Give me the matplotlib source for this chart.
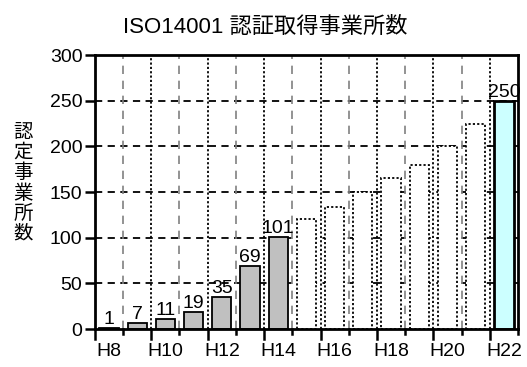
import numpy as np
import matplotlib.pyplot as plt

plt.rcParams['font.family'] = ['Liberation Sans', 'Noto Sans CJK JP']

# 年度ごとの認証取得事業所数
years = ['H8', 'H9', 'H10', 'H11', 'H12', 'H13', 'H14', 'H15',
         'H16', 'H17', 'H18', 'H19', 'H20', 'H21', 'H22']
counts = [1, 7, 11, 19, 35, 69, 101, 120, 134, 150, 165, 180, 200, 225, 250]
# 0: 実績, 1: 見込み(点線), 2: 目標
kind = [0, 0, 0, 0, 0, 0, 0, 1, 1, 1, 1, 1, 1, 1, 2]
labeled = [True] * 7 + [False] * 7 + [True]

title = 'ISO14001 認証取得事業所数'
ylabel = '認定事業所数'

fig = plt.figure(figsize=(5.27, 3.67), dpi=100)
ax = fig.add_axes([0.180, 0.1035, 0.803, 0.7465])

x = np.arange(len(years))
w = 0.68

# grid: dashed horizontal, alternating gray dashed / black dotted vertical
for yv in range(50, 300, 50):
    ax.axhline(yv, color='black', lw=1.3, ls=(0, (4, 3)), zorder=1)
for i in range(1, len(years)):
    if i % 2 == 1:
        ax.axvline(i - 0.5, color='#808080', lw=1.2, ls=(0, (5, 4)), zorder=1)
    else:
        ax.axvline(i - 0.5, color='black', lw=1.3, ls=(0, (1.2, 1.2)), zorder=1)

for xi, v, k in zip(x, counts, kind):
    if k == 0:
        ax.bar(xi, v, w, color='#c0c0c0', edgecolor='black', lw=1.3, zorder=3)
    elif k == 1:
        ax.bar(xi, v, w, color='white', edgecolor='black', lw=1.3,
               ls=(0, (1.2, 1.2)), zorder=3)
    else:
        ax.bar(xi, v, w, color='#ccffff', edgecolor='black', lw=2, zorder=3)

for xi, v, show in zip(x, counts, labeled):
    if show:
        ax.annotate(str(v), (xi, v), xytext=(0, 0), textcoords='offset points',
                    ha='center', va='bottom', fontsize=14, zorder=4)

ax.set_xlim(-0.5, len(years) - 0.5)
ax.set_ylim(0, 300)
ax.set_yticks(range(0, 301, 50))
ax.set_xticks(x[::2])
ax.set_xticklabels(years[::2], fontsize=14)
ax.tick_params(axis='y', labelsize=14, width=1.8, length=7, pad=2)
ax.tick_params(axis='x', length=0, pad=10)

# boundary ticks under the axis: long on even, short on odd
for i in range(len(years) + 1):
    ln = 10 if i % 2 == 0 else 5
    ax.plot([i - 0.5, i - 0.5], [0, -ln * 300 / 274], color='black', lw=1.8,
            clip_on=False, zorder=5)

for s in ax.spines.values():
    s.set_linewidth(2)
    s.set_zorder(6)

fig.text(0.503, 0.925, title, ha='center', va='center', fontsize=16)
fig.text(0.044, 0.499, '\n'.join(ylabel), ha='center', va='center',
         fontsize=14, linespacing=1.15)

fig.savefig('out.png', dpi=100)
